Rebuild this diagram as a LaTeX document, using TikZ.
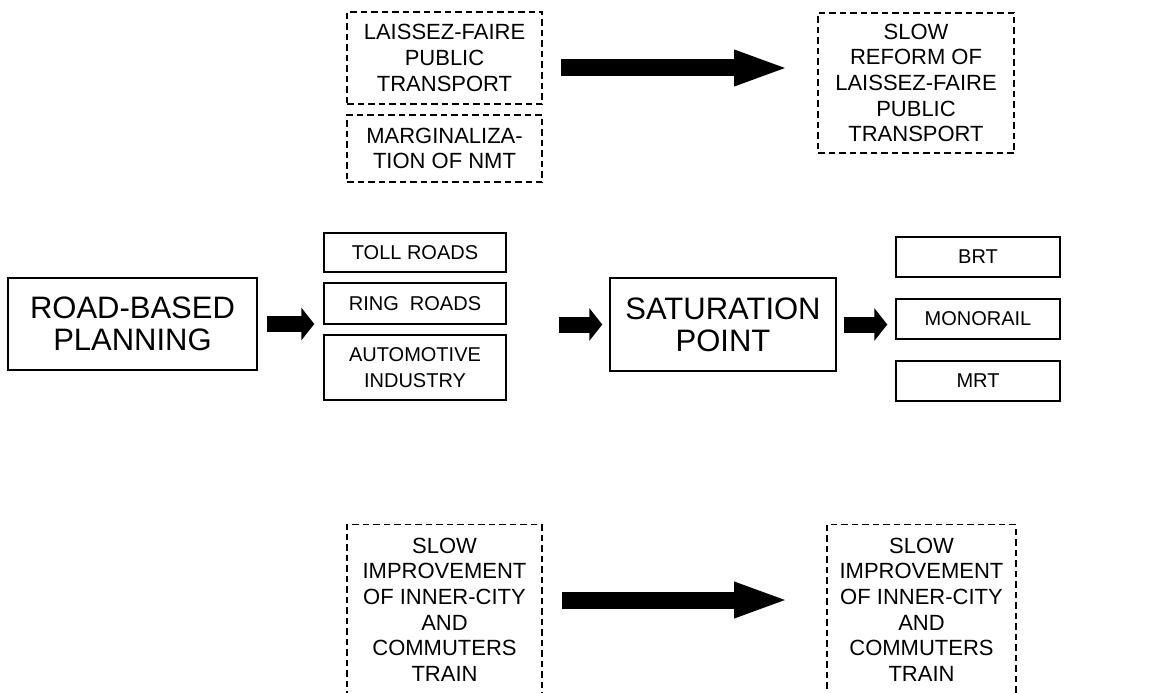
\documentclass[tikz,border=0pt]{standalone}
\usepackage{fontspec}
\setmainfont{Liberation Sans}
\usetikzlibrary{arrows}
\usetikzlibrary{arrows.meta}

\newcommand{\petit}{\fontsize{20}{26}\selectfont}
\newcommand{\moyen}{\fontsize{22}{25.7}\selectfont}
\newcommand{\grand}{\fontsize{31}{32.3}\selectfont}

\tikzset{
  boite/.style={draw, line width=1.4pt, align=center, font=\petit, inner sep=0pt},
  grandeboite/.style={boite, font=\grand},
  tirets/.style={boite, font=\moyen, line width=1.3pt, dash pattern=on 6.5pt off 4pt},
  fleche/.style={line width=16pt, -{Triangle[length=13pt,width=32pt]}},
  longuefleche/.style={line width=17pt, -{Triangle[length=56pt,width=32pt]}}
}

\begin{document}
\begin{tikzpicture}[x=1pt, y=-1pt]
    \clip (0,0) rectangle (1159,693);

    % Ligne du haut
    \node[tirets, minimum width=195pt, minimum height=92pt] (laissez) at (444.5,58) {LAISSEZ-FAIRE\\PUBLIC\\TRANSPORT};
    \node[tirets, minimum width=195pt, minimum height=67pt] (nmt) at (444.5,148.5) {MARGINALIZA-\\TION OF NMT};
    \node[tirets, minimum width=196pt, minimum height=140pt] (reforme) at (916,83) {SLOW\\REFORM OF\\LAISSEZ-FAIRE\\PUBLIC\\TRANSPORT};
    \coordinate (haut1) at (561,68);
    \coordinate (haut2) at (790,68);

    % Ligne du milieu
    \node[grandeboite, minimum width=249pt, minimum height=92pt] (route) at (132.5,324) {ROAD-BASED\\PLANNING};
    \node[boite, minimum width=182pt, minimum height=39pt] (peage) at (415,252.5) {TOLL ROADS};
    \node[boite, minimum width=182pt, minimum height=41pt] (anneau) at (415,303.5) {RING\ \ ROADS};
    \node[boite, minimum width=182pt, minimum height=65pt] (auto) at (415,367.5) {AUTOMOTIVE\\INDUSTRY};
    \node[grandeboite, minimum width=226pt, minimum height=93pt] (saturation) at (723,324.5) {SATURATION\\POINT};
    \node[boite, minimum width=164pt, minimum height=40pt] (brt) at (978,257) {BRT};
    \node[boite, minimum width=164pt, minimum height=40pt] (mono) at (978,319) {MONORAIL};
    \node[boite, minimum width=164pt, minimum height=40pt] (mrt) at (978,381) {MRT};

    % Ligne du bas
    \node[tirets, anchor=north, minimum width=195pt, inner ysep=13pt, text depth=40pt] (train1) at (444.5,524) {SLOW\\IMPROVEMENT\\OF INNER-CITY\\AND\\COMMUTERS\\TRAIN};
    \node[tirets, anchor=north, minimum width=189pt, inner ysep=13pt, text depth=40pt] (train2) at (921.5,524) {SLOW\\IMPROVEMENT\\OF INNER-CITY\\AND\\COMMUTERS\\TRAIN};
    \coordinate (bas1) at (562,600);
    \coordinate (bas2) at (790,600);

    % Fleches
    \draw[longuefleche] (haut1) -- (haut2);
    \draw[fleche, shorten <=9pt, shorten >=9pt] (route.east) -- (route.east -| anneau.west);
    \draw[fleche, shorten <=52pt, shorten >=7pt] (saturation.west -| anneau.east) -- (saturation.west);
    \draw[fleche, shorten <=7pt, shorten >=8pt] (saturation.east) -- (saturation.east -| mono.west);
    \draw[longuefleche] (bas1) -- (bas2);
\end{tikzpicture}
\end{document}
